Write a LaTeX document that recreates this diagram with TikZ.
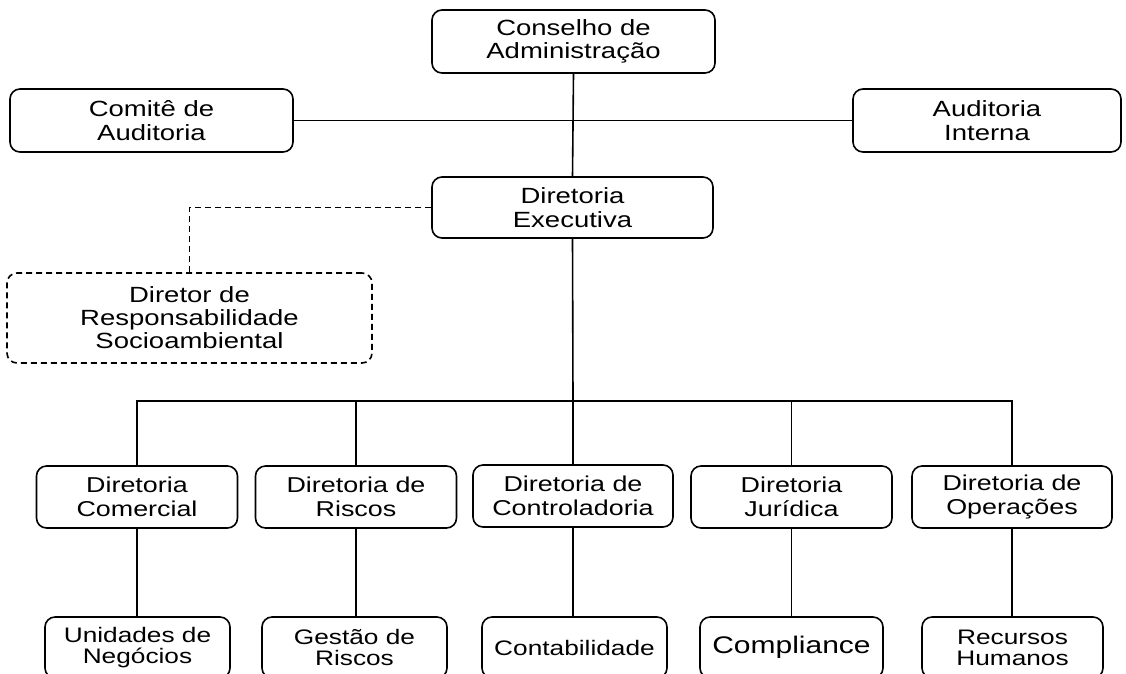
\documentclass[tikz,border=0pt]{standalone}
\usepackage{fontspec}
\setmainfont{Liberation Sans}[FakeStretch=1.25]
\begin{document}
\begin{tikzpicture}[x=1pt,y=-1pt,
  orgbox/.style={draw, line width=1.6pt, rounded corners=10pt, align=center, inner sep=0pt,
    font=\fontsize{22}{23.5}\selectfont},
  lowbox/.style={orgbox, font=\fontsize{21}{21}\selectfont, minimum width=185pt, minimum height=61pt},
  midbox/.style={orgbox, font=\fontsize{21.5}{24}\selectfont, minimum width=201pt, minimum height=62pt},
  link/.style={line width=1.6pt},
  dlink/.style={line width=1.6pt, dash pattern=on 6pt off 4pt}]
\useasboundingbox (0,0) rectangle (1126,673);
\clip (0,0) rectangle (1126,673);

\node[orgbox, minimum width=283pt, minimum height=63pt] (cons) at (573.5,41.5) {Conselho de\\Administração};
\node[orgbox, minimum width=283pt, minimum height=63pt] (comite) at (151.5,120.5) {Comitê de\\Auditoria};
\node[orgbox, minimum width=268pt, minimum height=63pt] (audint) at (987,120.5) {Auditoria\\Interna};
\node[orgbox, minimum width=281pt, minimum height=61pt] (exec) at (572.5,207.5) {Diretoria\\Executiva};
\node[orgbox, dash pattern=on 6pt off 4pt, minimum width=365pt, minimum height=90pt,
  font=\fontsize{22}{23}\selectfont] (dirsoc) at (189.5,318) {Diretor de\\Responsabilidade\\Socioambiental};

\node[midbox] (com) at (137,497) {Diretoria\\Comercial};
\node[midbox] (ris) at (356,497) {Diretoria de\\Riscos};
\node[midbox, minimum width=200pt] (ctl) at (573,496) {Diretoria de\\Controladoria};
\node[midbox] (jur) at (791.5,497) {Diretoria\\Jurídica};
\node[midbox, minimum width=200pt] (ope) at (1012,497) {Diretoria de\\Operações};

\node[lowbox] (uni) at (137.5,647.5) {Unidades de\\Negócios};
\node[lowbox] (ges) at (354.5,647.5) {Gestão de\\Riscos};
\node[lowbox] (cont) at (574.5,647.5) {Contabilidade};
\node[lowbox, minimum width=183pt, font=\fontsize{24}{25}\selectfont] (comp) at (791.5,647.5) {Compliance};
\node[lowbox, minimum width=181pt] (rh) at (1012.5,647.5) {Recursos\\Humanos};

\draw[link] (cons.south) -- (exec.north);
\draw[link] (comite.east) -- (audint.west);
\draw[dlink] (exec.west) -| (dirsoc.north);

\coordinate (bus) at (573,401);
\draw[link] (exec.south) -- (bus);
\draw[link] (com.north) |- (bus) -| (ope.north);
\draw[link] (ris.north) -- (ris.north |- bus);
\draw[link] (ctl.north) -- (ctl.north |- bus);
\draw[link] (jur.north) -- (jur.north |- bus);

\draw[link] (com.south) -- (com.south |- uni.north);
\draw[link] (ris.south) -- (ris.south |- ges.north);
\draw[link] (ctl.south) -- (ctl.south |- cont.north);
\draw[link] (jur.south) -- (jur.south |- comp.north);
\draw[link] (ope.south) -- (ope.south |- rh.north);
\end{tikzpicture}
\end{document}
